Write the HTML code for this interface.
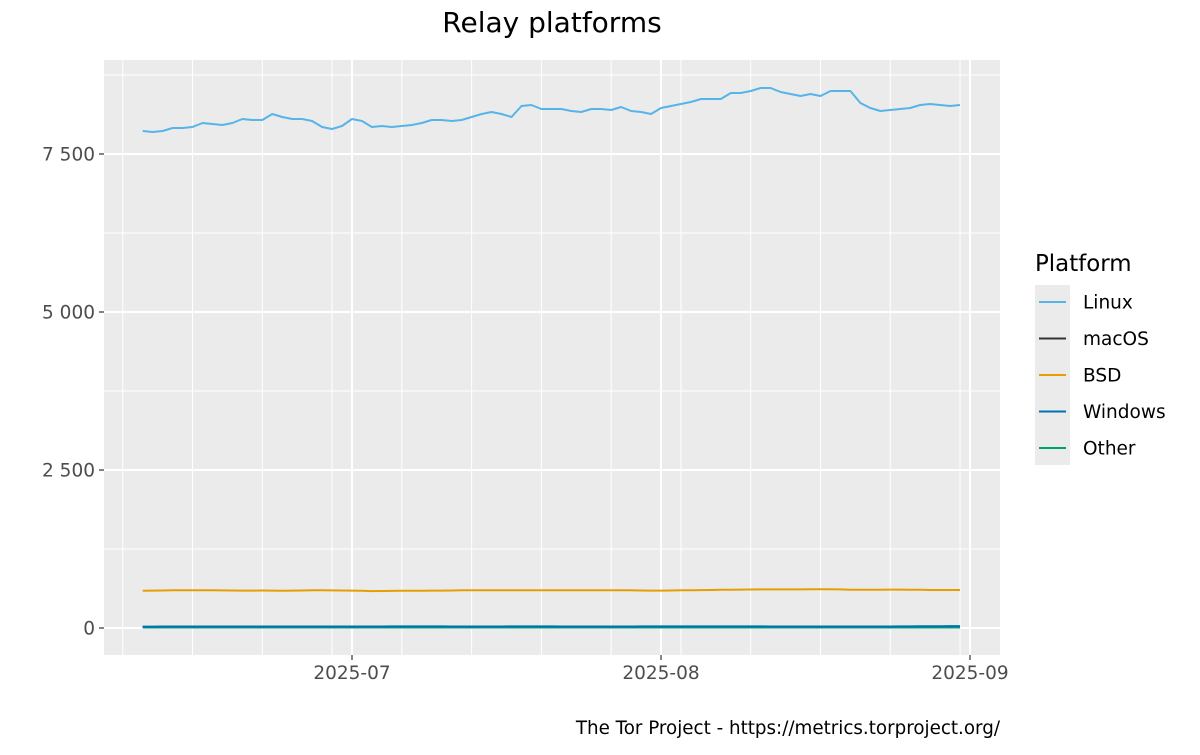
<!DOCTYPE html>
<html><head><meta charset="utf-8"><style>
body{margin:0;background:#fff;}
svg{font-family:"DejaVu Sans","Liberation Sans",sans-serif;}
</style></head><body>
<svg id="chart" width="1200" height="750" viewBox="0 0 1200 750">
<text x="552" y="32" font-size="28" text-anchor="middle" fill="#000">Relay platforms</text>
<rect x="104" y="60" width="896" height="595" fill="#ebebeb"/>
<g id="grid"></g>
<g id="series"></g>
<g id="axes"></g>
<g>
<text x="1035" y="271" font-size="22.9" fill="#000">Platform</text>
<rect x="1035" y="285" width="35" height="180" fill="#ebebeb"/>
<g id="legend"></g>
</g>
<text x="1000" y="734" font-size="18.3" text-anchor="end" fill="#000">The Tor Project - https://metrics.torproject.org/</text>
</svg>
<script>
const startDate = "2025-06-10";
const linux = [7864,7848,7864,7911,7911,7927,7991,7975,7959,7991,8054,8038,8038,8133,8085,8054,8054,8022,7927,7896,7943,8054,8022,7927,7943,7927,7943,7959,7991,8038,8038,8022,8038,8085,8133,8165,8133,8085,8260,8275,8212,8212,8212,8181,8165,8212,8212,8196,8244,8181,8165,8133,8228,8260,8291,8323,8370,8370,8370,8465,8465,8497,8544,8544,8481,8450,8418,8450,8418,8497,8497,8497,8307,8228,8181,8196,8212,8228,8275,8291,8275,8260,8275];
const macos = Array(83).fill(15);
const bsd = [590,592,594,596,598,598,598,596,595,594,592,592,593,591,590,592,594,596,596,595,594,592,590,584,586,587,588,588,590,592,592,594,596,598,598,598,598,598,598,598,598,598,598,598,596,596,596,598,596,596,594,592,592,594,596,598,600,602,604,606,608,609,610,610,610,610,610,612,612,612,610,605,604,604,606,608,608,606,604,602,602,602,602];
const windows = [22,22,23,23,24,24,24,24,24,23,23,23,23,23,24,24,24,24,24,24,24,24,24,24,24,25,25,25,25,25,25,24,24,24,24,24,24,25,25,25,25,25,24,24,24,24,24,24,24,24,25,25,25,25,25,25,25,25,25,25,25,25,25,24,24,24,24,24,24,24,24,24,24,24,24,24,25,26,27,28,29,30,30];
const other = Array(83).fill(8);
const yTicks = [0,2500,5000,7500];
const yTickLabels = ["0","2 500","5 000","7 500"];
const xTicks = ["2025-07-01","2025-08-01","2025-09-01"];
const xTickLabels = ["2025-07","2025-08","2025-09"];

const NS="http://www.w3.org/2000/svg";
const DAY=86400000;
const t0=Date.parse("2025-07-01"), px0=352, pxPerDay=309/31;
function xScale(d){return px0+(Date.parse(d)-t0)/DAY*pxPerDay;}
function xIdx(i){return px0+(Date.parse(startDate)+i*DAY-t0)/DAY*pxPerDay;}
function yScale(v){return 628-v*158/2500;}
function mk(tag,attrs,parent){const e=document.createElementNS(NS,tag);for(const k in attrs)e.setAttribute(k,attrs[k]);parent.appendChild(e);return e;}
const grid=document.getElementById('grid'), series=document.getElementById('series'), axes=document.getElementById('axes'), legend=document.getElementById('legend');
for(let i=0;i<yTicks.length;i++){
  const v=yTicks[i]+1250;const y=yScale(v);
  if(y>60){const l=mk('line',{x1:104,x2:1000,y1:y,y2:y,stroke:'#fff','stroke-width':1},grid);
  
  }
}
for(let t=Date.parse("2025-06-08");t<=Date.parse("2025-08-31");t+=7*DAY){
  const x=px0+(t-t0)/DAY*pxPerDay;
  const l=mk('line',{x1:x,x2:x,y1:60,y2:655,stroke:'#fff','stroke-width':1},grid);
  
  
}
yTicks.forEach((v,i)=>{
  const y=yScale(v);
  const l=mk('line',{x1:104,x2:1000,y1:y,y2:y,stroke:'#fff','stroke-width':2},grid);
  
  
  const tk=mk('line',{x1:99,x2:104,y1:y,y2:y,stroke:'#333','stroke-width':1.2},axes);
  
  
  const t=mk('text',{x:95,y:y+6.5,'font-size':18.5,'text-anchor':'end',fill:'#4d4d4d'},axes);
  t.textContent=yTickLabels[i];
  
  
});
xTicks.forEach((d,i)=>{
  const x=xScale(d);
  const l=mk('line',{x1:x,x2:x,y1:60,y2:655,stroke:'#fff','stroke-width':2},grid);
  
  
  const tk=mk('line',{x1:x,x2:x,y1:655,y2:660,stroke:'#333','stroke-width':1.2},axes);
  
  
  const t=mk('text',{x:x,y:679,'font-size':18.5,'text-anchor':'middle',fill:'#4d4d4d'},axes);
  t.textContent=xTickLabels[i];
  
  
});
const seriesDefs=[["Linux",linux,"#56b4e9"],["macOS",macos,"#333333"],["BSD",bsd,"#e69f00"],["Windows",windows,"#0072b2"],["Other",other,"#009e73"]];
const drawOrder=[0,1,2,4,3];
drawOrder.forEach(k=>{
  const [name,vals,col]=seriesDefs[k];
  const pts=vals.map((v,i)=>xIdx(i).toFixed(1)+","+yScale(v).toFixed(1)).join(" ");
  const p=mk('polyline',{points:pts,fill:'none',stroke:col,'stroke-width':2,'stroke-linejoin':'round'},series);
  
  
});
seriesDefs.forEach(([name,vals,col],i)=>{
  const y=302+i*36.5;
  const g=mk('g',{},legend);
  
  
  mk('line',{x1:1039,x2:1066,y1:y,y2:y,stroke:col,'stroke-width':2},g);
  const t=mk('text',{x:1083,y:y+6.5,'font-size':18.5,fill:'#000'},g);
  t.textContent=name;
});
</script>
</body></html>
